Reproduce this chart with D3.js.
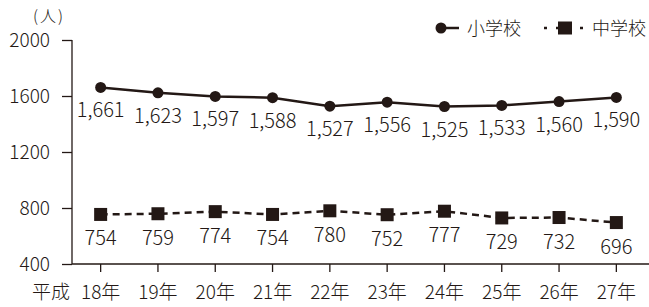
<!DOCTYPE html>
<html lang="ja">
<head>
<meta charset="utf-8">
<script src="https://cdn.jsdelivr.net/npm/d3@7"></script>
<style>
  html, body { margin: 0; padding: 0; background: #fff; }
  svg { display: block; font-family: "Noto Sans CJK JP", "Noto Sans", sans-serif; font-weight: 300; }
</style>
</head>
<body>
<svg id="chart" width="649" height="307"></svg>
<script>
const years = ["18年", "19年", "20年", "21年", "22年", "23年", "24年", "25年", "26年", "27年"];
const elementary = [1661, 1623, 1597, 1588, 1527, 1556, 1525, 1533, 1560, 1590];
const juniorHigh = [754, 759, 774, 754, 780, 752, 777, 729, 732, 696];
const yTicks = [400, 800, 1200, 1600, 2000];

const ink = "#231815";
const svg = d3.select("#chart");
const margin = { left: 72, right: 4, top: 40, bottom: 43 };
const W = 649, H = 307;

const x = d3.scaleBand().domain(years).range([margin.left, W - margin.right]);
const y = d3.scaleLinear().domain([400, 2000]).range([H - margin.bottom, margin.top]);
const cx = d => x(d) + x.bandwidth() / 2;

// y axis
const yAxis = svg.append("g").attr("transform", `translate(${margin.left},0)`)
  .call(d3.axisLeft(y).tickValues(yTicks).tickSize(10).tickPadding(12).tickFormat(d3.format("d")));
yAxis.select(".domain").attr("d", `M0,${y(2000)}V${y(400)}`);

// x axis
const xAxis = svg.append("g").attr("transform", `translate(0,${y(400)})`)
  .call(d3.axisBottom(x).tickSize(8).tickPadding(14));
xAxis.select(".domain").attr("d", `M${margin.left},0H${W}`);

svg.selectAll(".domain, .tick line").attr("stroke", ink).attr("stroke-width", 1.3);
svg.selectAll(".tick text").attr("fill", ink).attr("font-size", 19)
  .attr("font-family", "Noto Sans CJK JP").attr("font-weight", 300);

svg.append("text").attr("x", 70).attr("y", y(400) + 35).attr("text-anchor", "end")
  .attr("fill", ink).attr("font-size", 19).text("平成");
svg.append("text").attr("x", 33).attr("y", 22).attr("letter-spacing", 2)
  .attr("fill", ink).attr("font-size", 16).text("(人)");

const line = d3.line().x((d, i) => cx(years[i])).y(d => y(d));
const fmt = d3.format(",");

// elementary
svg.append("path").datum(elementary).attr("d", line)
  .attr("fill", "none").attr("stroke", ink).attr("stroke-width", 2.5);
svg.selectAll(".pe").data(elementary).join("circle")
  .attr("cx", (d, i) => cx(years[i])).attr("cy", d => y(d)).attr("r", 5.5).attr("fill", ink);
svg.selectAll(".le").data(elementary).join("text")
  .attr("x", (d, i) => cx(years[i])).attr("y", d => y(d) + 30)
  .attr("text-anchor", "middle").attr("fill", ink).attr("font-size", 20).text(d => fmt(d));

// junior high
svg.append("path").datum(juniorHigh).attr("d", line)
  .attr("fill", "none").attr("stroke", ink).attr("stroke-width", 2.5).attr("stroke-dasharray", "7,5");
svg.selectAll(".pj").data(juniorHigh).join("rect")
  .attr("x", (d, i) => cx(years[i]) - 6.5).attr("y", d => y(d) - 6.5)
  .attr("width", 13).attr("height", 13).attr("fill", ink);
svg.selectAll(".lj").data(juniorHigh).join("text")
  .attr("x", (d, i) => cx(years[i])).attr("y", d => y(d) + 31)
  .attr("text-anchor", "middle").attr("fill", ink).attr("font-size", 20).text(d => d);

// legend
const lg = svg.append("g").attr("transform", "translate(0,28)");
lg.append("line").attr("x1", 440).attr("x2", 459).attr("stroke", ink).attr("stroke-width", 2.5);
lg.append("circle").attr("cx", 441).attr("r", 5.5).attr("fill", ink);
lg.append("text").attr("x", 467).attr("y", 7).attr("fill", ink).attr("font-size", 18).text("小学校");
lg.append("line").attr("x1", 544).attr("x2", 586).attr("stroke", ink).attr("stroke-width", 2.5)
  .attr("stroke-dasharray", "3,9");
lg.append("rect").attr("x", 558).attr("y", -6.5).attr("width", 14).attr("height", 13).attr("fill", ink);
lg.append("text").attr("x", 592).attr("y", 7).attr("fill", ink).attr("font-size", 18).text("中学校");
</script>
</body>
</html>
